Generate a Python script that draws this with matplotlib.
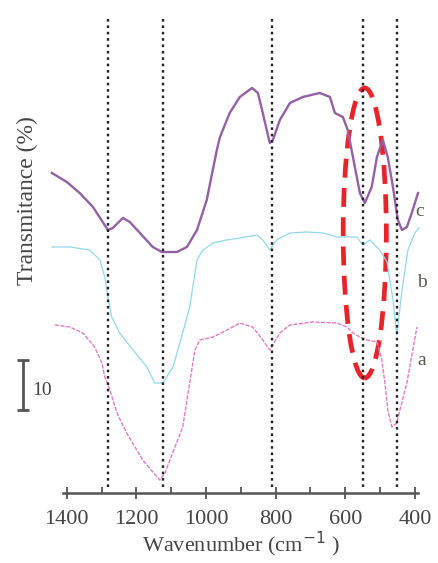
import matplotlib
matplotlib.use("Agg")
import matplotlib.pyplot as plt
from matplotlib.patches import Ellipse

plt.rcParams['font.family'] = ['Liberation Serif', 'DejaVu Serif']

# spectrum c (top, solid purple)
wn_c = [1443, 1400, 1363, 1325, 1282, 1268, 1239, 1219, 1190, 1153, 1127, 1084,
        1055, 1026, 998, 969, 960, 932, 903, 868, 851, 837, 817, 808, 788, 759,
        722, 673, 644, 630, 607, 593, 578, 558, 544, 524, 509, 492, 478, 463,
        449, 437, 423, 409, 391]
tr_c = [64, 62.2, 60, 57.2, 52.6, 53, 55, 54.2, 52, 49.2, 48.2, 48.2,
        49.2, 52.6, 58.6, 68.6, 71.2, 76, 79.2, 81, 80, 76, 70, 70.6, 74.6, 78,
        79.2, 80, 79.2, 76, 75.2, 72.6, 67.2, 60, 58, 61.2, 67.2, 70.6, 67.2, 61.2,
        54.6, 52.6, 53.2, 56, 60]

# spectrum b (middle, light cyan)
wn_b = [1443, 1391, 1334, 1305, 1291, 1282, 1271, 1248, 1210, 1170, 1147, 1124,
        1095, 1067, 1047, 1026, 1009, 980, 940, 903, 854, 837, 817, 797, 759,
        710, 664, 624, 567, 549, 529, 501, 480, 463, 452, 437, 420, 400, 389]
tr_b = [49.2, 49.2, 48.6, 46.6, 43.2, 39.2, 35.2, 32, 28.6, 25.2, 22, 22,
        25.2, 32, 37.2, 46.6, 48.6, 50, 50.6, 51, 51.6, 50.6, 48.6, 50.6, 52,
        52.2, 52, 51.2, 51.2, 49.6, 50.6, 48.6, 46.2, 38.6, 31.6, 40.6, 48.6, 52, 53]

# spectrum a (bottom, pink)
wn_a = [1434, 1391, 1354, 1320, 1299, 1291, 1276, 1256, 1228, 1199, 1182, 1133,
        1118, 1095, 1067, 1047, 1032, 1018, 980, 940, 903, 866, 837, 817, 788,
        759, 693, 624, 595, 578, 558, 538, 509, 495, 486, 478, 466, 452, 443,
        423, 406, 394]
tr_a = [33.6, 33.2, 32, 29.2, 26, 23.2, 20.6, 16, 12, 8.6, 6.6, 2.6,
        4, 8.2, 13.2, 22, 28.6, 30.6, 31.2, 32.6, 34, 33.2, 30.6, 28.6, 32,
        33.6, 34.2, 34, 33.2, 32, 31.2, 30.6, 30.2, 26.6, 22, 16.6, 13.2, 14, 16.6,
        22, 28.6, 33.2]

peaks = [1282, 1124, 811, 549, 452]
labels = ['a', 'b', 'c']
label_pos = [(394, 26.6), (394, 42), (400, 56.2)]

fig = plt.figure(figsize=(4.39, 5.63), dpi=100)
ax = fig.add_axes([0.1435, 0.1243, 0.8087, 0.858])

ax.plot(wn_a, tr_a, color='#e27cc8', lw=1.0, ls=(0, (3, 1)), clip_on=False)
ax.plot(wn_b, tr_b, color='#92d8e8', lw=0.9, clip_on=False)
ax.plot(wn_c, tr_c, color='#9262a4', lw=1.7, clip_on=False)

ax.vlines(peaks, 1.2, 95, colors='#222222', lw=1.7, linestyles=[(0, (1.1, 1.6))])

ell = Ellipse((544, 52), width=124, height=58, fill=False, edgecolor='#e8232a',
              lw=3.4, ls=(0, (4.0, 2.2)))
ax.add_patch(ell)

for lab, (x, y) in zip(labels, label_pos):
    ax.text(x, y, lab, ha='left', va='center', fontsize=14, color='#555a50')

# scale bar
ax.errorbar([1526], [21.6], yerr=5, color='#555555', lw=2, capsize=4,
            capthick=2, clip_on=False)
ax.text(1500, 20.6, '10', ha='left', va='center', fontsize=14, color='#444444')

ax.set_xlim(1411, 391)
ax.set_ylim(0, 96.6)
ax.set_xticks([1400, 1200, 1000, 800, 600, 400])
ax.set_xticks([1300, 1100, 900, 700, 500], minor=True)
ax.set_yticks([])
for s in ['top', 'right', 'left']:
    ax.spines[s].set_visible(False)
ax.spines['bottom'].set_color('#555555')
ax.spines['bottom'].set_linewidth(1.8)
ax.tick_params(axis='x', which='major', direction='inout', length=9, width=1.3,
               colors='#555555', labelsize=16, labelcolor='#444444', pad=8)
ax.tick_params(axis='x', which='minor', direction='in', length=4, width=1.3,
               colors='#555555')
ax.set_xlabel('Wavenumber (cm$^{-1}$ )', fontsize=16, color='#444444', labelpad=0)
fig.text(0.062, 0.643, 'Transmitance (%)', rotation=90, ha='center', va='center',
         fontsize=17, color='#444444')

fig.savefig('out.png', dpi=100)
